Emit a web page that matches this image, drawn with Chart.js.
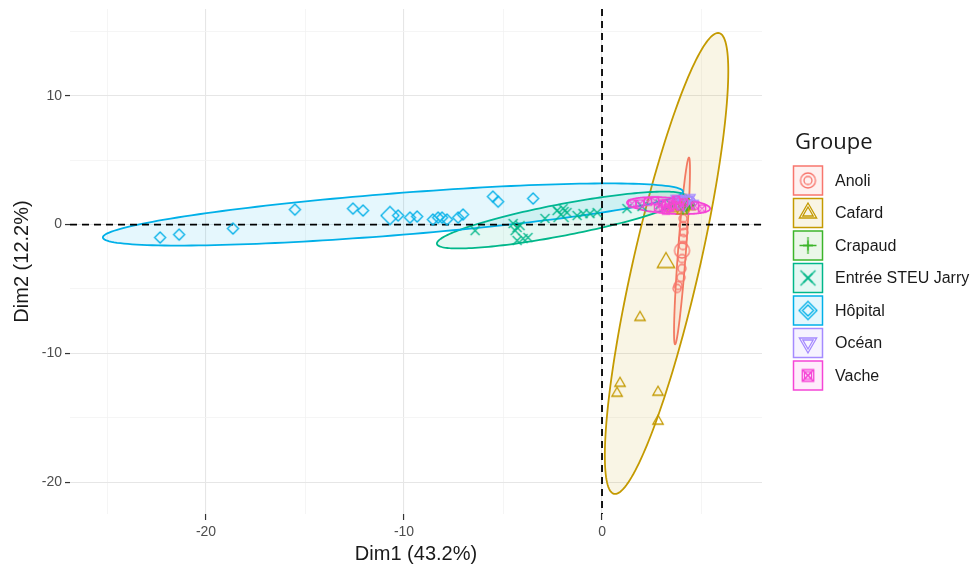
<!DOCTYPE html>
<html><head><meta charset="utf-8">
<script src="https://cdn.jsdelivr.net/npm/chart.js@4.4.1/dist/chart.umd.min.js"></script>
<style>html,body{margin:0;padding:0;background:#fff;}#wrap{width:976px;height:566px;}</style>
</head><body><div id="wrap"><canvas id="c" width="976" height="566"></canvas></div>
<script>
// ---------- data ----------
const GROUPS = ['Anoli','Cafard','Crapaud','Entrée STEU Jarry','Hôpital','Océan','Vache'];

const ANOLI_X = [4.09, 4.09, 4.14, 4.09, 4.09, 4.04, 4.04, 3.99, 3.84, 3.79, 4.19];
const ANOLI_Y = [0.47, -0.08, -0.62, -1.09, -1.63, -2.64, -3.41, -4.11, -4.73, -4.96, 1.40];

const CAFARD_X = [1.92, 0.91, 0.76, 2.83, 2.83, 3.54, 3.74, 3.94, 4.14, 4.34, 4.44, 4.04, 4.24, 4.19];
const CAFARD_Y = [-7.21, -12.33, -13.10, -13.02, -15.27, 1.24, 1.40, 1.55, 1.32, 1.63, 1.40, 1.09, 1.86, 1.71];

const CRAPAUD_X = [4.24, 4.44, 4.09, 4.34];
const CRAPAUD_Y = [1.40, 1.55, 1.16, 1.78];

const ENTREE_X = [-6.41, -4.49, -4.29, -4.14, -4.39, -4.29, -3.99, -3.74, -2.88, -2.27, -1.97, -1.77, -1.26, -0.96, -0.61, -0.25, 1.26, 2.02, 2.93, 3.43];
const ENTREE_Y = [-0.47, 0.08, -0.23, -0.08, -0.47, -1.24, -1.09, -1.01, 0.47, 1.09, 1.24, 0.93, 0.70, 0.85, 0.85, 0.93, 1.24, 1.40, 1.55, 1.63];

const HOPITAL_X = [-22.32, -21.36, -18.64, -15.51, -12.58, -12.07, -10.30, -9.70, -9.34, -8.54, -8.28, -8.08, -7.83, -7.27, -7.02, -5.51, -5.25, -3.48];
const HOPITAL_Y = [-1.01, -0.78, -0.31, 1.16, 1.24, 1.09, 0.70, 0.54, 0.62, 0.39, 0.54, 0.54, 0.39, 0.54, 0.78, 2.17, 1.78, 2.02];

const OCEAN_X = [3.74, 4.04, 4.34, 4.60, 3.89, 4.44];
const OCEAN_Y = [2.02, 1.86, 1.94, 1.63, 1.63, 2.09];

const VACHE_X = [1.52, 1.92, 2.32, 2.68, 3.03, 3.33, 3.54, 3.74, 3.94, 4.14, 3.23, 2.83, 4.70, 5.05];
const VACHE_Y = [1.63, 1.63, 1.78, 1.86, 1.63, 1.32, 1.55, 1.94, 1.40, 1.71, 1.09, 1.32, 1.47, 1.24];

// group means (large symbols)
const MEAN_X = [4.04, 3.23, 4.29, -2.07, -10.71, 4.14, 3.33];
const MEAN_Y = [-2.02, -2.95, 1.47, 0.78, 0.70, 1.78, 1.47];

// concentration ellipses: centre + two conjugate semi-diameters (A, B)
const ELL_CX = [4.04, 3.26, 4.29, -2.05, -10.56, 4.14, 3.36];
const ELL_CY = [-2.05, -3.02, 1.55, 0.35, 0.78, 1.78, 1.47];
const ELL_AX = [0.35, 2.60, 0.35, 6.29, 14.65, 0.55, 2.10];
const ELL_AY = [7.25, 17.90, 0.10, 1.82, 1.78, 0.05, -0.23];
const ELL_BX = [0.20, 1.72, 0.00, 0.00, 0.00, 0.00, 0.00];
const ELL_BY = [0.00, 0.00, 0.35, 1.25, 1.63, 0.45, 0.62];

const X_TICKS = [-25, -20, -15, -10, -5, 0, 5];
const Y_TICKS = [15, 10, 5, 0, -5, -10, -15, -20];
const X_MIN = -26.87, X_MAX = 8.08, Y_MIN = -22.48, Y_MAX = 16.74;

// ---------- styles ----------
const COLORS = ['#F8766D', '#C49A00', '#3CB52A', '#00B78A', '#00B0E8', '#A58AFF', '#F545D6'];
const SHAPES = ['circle', 'triangle', 'plus', 'cross', 'diamond', 'down', 'squarex'];
const SMALL_R = [4, 6, 5, 4.5, 5.5, 6, 5];
const BIG_R = [7.5, 10, 8.5, 7.5, 9, 10, 8];

const SERIES = [[ANOLI_X, ANOLI_Y], [CAFARD_X, CAFARD_Y], [CRAPAUD_X, CRAPAUD_Y], [ENTREE_X, ENTREE_Y],
  [HOPITAL_X, HOPITAL_Y], [OCEAN_X, OCEAN_Y], [VACHE_X, VACHE_Y]];

function hexA(hex, a) {
  const r = parseInt(hex.slice(1,3),16), g = parseInt(hex.slice(3,5),16), b = parseInt(hex.slice(5,7),16);
  return `rgba(${r},${g},${b},${a})`;
}

function drawShape(ctx, shape, cx, cy, r, color, lw) {
  ctx.save();
  ctx.strokeStyle = color; ctx.lineWidth = lw; ctx.lineJoin = 'miter';
  ctx.beginPath();
  if (shape === 'circle') {
    ctx.arc(cx, cy, r, 0, Math.PI * 2);
  } else if (shape === 'triangle') {
    ctx.moveTo(cx, cy - r); ctx.lineTo(cx + r * 0.866, cy + r * 0.5); ctx.lineTo(cx - r * 0.866, cy + r * 0.5); ctx.closePath();
  } else if (shape === 'down') {
    ctx.moveTo(cx, cy + r); ctx.lineTo(cx + r * 0.866, cy - r * 0.5); ctx.lineTo(cx - r * 0.866, cy - r * 0.5); ctx.closePath();
  } else if (shape === 'plus') {
    ctx.moveTo(cx - r, cy); ctx.lineTo(cx + r, cy); ctx.moveTo(cx, cy - r); ctx.lineTo(cx, cy + r);
  } else if (shape === 'cross') {
    ctx.moveTo(cx - r, cy - r); ctx.lineTo(cx + r, cy + r); ctx.moveTo(cx + r, cy - r); ctx.lineTo(cx - r, cy + r);
  } else if (shape === 'diamond') {
    ctx.moveTo(cx, cy - r); ctx.lineTo(cx + r, cy); ctx.lineTo(cx, cy + r); ctx.lineTo(cx - r, cy); ctx.closePath();
  } else if (shape === 'squarex') {
    const s = r * 0.72;
    ctx.rect(cx - s, cy - s, 2 * s, 2 * s);
    ctx.moveTo(cx - s, cy - s); ctx.lineTo(cx + s, cy + s); ctx.moveTo(cx + s, cy - s); ctx.lineTo(cx - s, cy + s);
  }
  ctx.stroke();
  ctx.restore();
}

function makeSymbol(shape, r, color) {
  const size = Math.ceil(2 * r + 4);
  const cv = document.createElement('canvas');
  cv.width = size; cv.height = size;
  drawShape(cv.getContext('2d'), shape, size / 2, size / 2, r, color, 1.3);
  return cv;
}

const SMALL_SYM = GROUPS.map((g, i) => makeSymbol(SHAPES[i], SMALL_R[i], COLORS[i]));
const BIG_SYM = GROUPS.map((g, i) => makeSymbol(SHAPES[i], BIG_R[i], COLORS[i]));

const datasets = [];
GROUPS.forEach((g, i) => {
  datasets.push({
    label: g,
    data: SERIES[i][0].map((x, k) => ({ x: x, y: SERIES[i][1][k] })),
    pointStyle: SMALL_SYM[i], pointRadius: 5, pointHoverRadius: 5,
    order: 2 * (GROUPS.length - i),
  });
  datasets.push({
    label: g + ' (moyenne)',
    data: [{ x: MEAN_X[i], y: MEAN_Y[i] }],
    pointStyle: BIG_SYM[i], pointRadius: 8, pointHoverRadius: 8,
    order: 2 * (GROUPS.length - i) - 1,
  });
});

// ---------- plugins ----------
const ellipsesAndAxes = {
  id: 'ellipsesAndAxes',
  beforeDatasetsDraw(chart) {
    const { ctx, chartArea: a, scales: { x: xs, y: ys } } = chart;
    ctx.save();
    ctx.beginPath(); ctx.rect(a.left, a.top, a.right - a.left, a.bottom - a.top); ctx.clip();
    GROUPS.forEach((g, i) => {
      ctx.beginPath();
      const N = 180;
      for (let k = 0; k <= N; k++) {
        const t = 2 * Math.PI * k / N;
        const dx = ELL_CX[i] + ELL_AX[i] * Math.cos(t) + ELL_BX[i] * Math.sin(t);
        const dy = ELL_CY[i] + ELL_AY[i] * Math.cos(t) + ELL_BY[i] * Math.sin(t);
        const px = xs.getPixelForValue(dx), py = ys.getPixelForValue(dy);
        if (k === 0) ctx.moveTo(px, py); else ctx.lineTo(px, py);
      }
      ctx.closePath();
      ctx.fillStyle = hexA(COLORS[i], 0.1);
      ctx.fill();
      ctx.strokeStyle = COLORS[i];
      ctx.lineWidth = 1.8;
      ctx.stroke();
    });
    // dashed reference lines at 0
    ctx.strokeStyle = '#000';
    ctx.lineWidth = 1.8;
    ctx.setLineDash([7, 5]);
    const x0 = xs.getPixelForValue(0), y0 = ys.getPixelForValue(0);
    ctx.beginPath(); ctx.moveTo(a.left, y0); ctx.lineTo(a.right, y0); ctx.stroke();
    ctx.beginPath(); ctx.moveTo(x0, a.top); ctx.lineTo(x0, a.bottom); ctx.stroke();
    ctx.restore();
  }
};

const customLegend = {
  id: 'customLegend',
  afterDraw(chart) {
    const ctx = chart.ctx;
    ctx.save();
    ctx.fillStyle = '#1A1A1A';
    ctx.font = '22px "Open Sans", "Liberation Sans", sans-serif';
    ctx.textBaseline = 'alphabetic';
    ctx.textAlign = 'left';
    ctx.fillText('Groupe', 795, 149);
    GROUPS.forEach((g, i) => {
      const cy = 180.5 + i * 32.5;
      ctx.fillStyle = hexA(COLORS[i], 0.1);
      ctx.fillRect(793.5, cy - 14.5, 29, 29);
      ctx.strokeStyle = COLORS[i];
      ctx.lineWidth = 1.5;
      ctx.strokeRect(793.5, cy - 14.5, 29, 29);
      const s = SMALL_SYM[i], b = BIG_SYM[i];
      ctx.drawImage(b, 808 - b.width / 2, cy - b.height / 2);
      ctx.drawImage(s, 808 - s.width / 2, cy - s.height / 2);
      ctx.fillStyle = '#1A1A1A';
      ctx.font = '16px "Liberation Sans", Arial, sans-serif';
      ctx.textBaseline = 'middle';
      ctx.fillText(g, 835, cy + 1);
    });
    ctx.restore();
  }
};

const isMajor = (ctx) => ctx.tick && Math.abs(ctx.tick.value % 10) < 1e-9;
const tickFont = { family: '"Liberation Sans", Arial, sans-serif', size: 14 };
const titleFont = { family: '"Liberation Sans", Arial, sans-serif', size: 20 };

new Chart(document.getElementById('c'), {
  type: 'scatter',
  data: { datasets },
  options: {
    responsive: false, animation: false, devicePixelRatio: 1,
    layout: { padding: { left: 0, right: 214, top: 8, bottom: 0 } },
    plugins: { legend: { display: false }, tooltip: { enabled: false } },
    scales: {
      x: {
        type: 'linear', min: X_MIN, max: X_MAX,
        afterBuildTicks: (s) => { s.ticks = X_TICKS.map(v => ({ value: v })); },
        afterFit: (s) => { s.height = 52; s.paddingLeft = 0; s.paddingRight = 0; },
        ticks: { callback: (v) => (Math.abs(v % 10) < 1e-9 ? String(v) : ''), color: '#4D4D4D', font: tickFont, padding: 4, maxRotation: 0, autoSkip: false },
        grid: {
          color: (c) => isMajor(c) ? '#E6E6E6' : '#F2F2F2',
          lineWidth: (c) => isMajor(c) ? 1.1 : 0.8,
          tickColor: (c) => isMajor(c) ? '#333333' : 'rgba(0,0,0,0)',
          tickLength: 6, tickWidth: 1.2,
        },
        border: { display: false },
        title: { display: true, text: 'Dim1 (43.2%)', color: '#1A1A1A', font: titleFont, padding: { top: 0, bottom: 0 } },
      },
      y: {
        type: 'linear', min: Y_MIN, max: Y_MAX,
        afterBuildTicks: (s) => { s.ticks = Y_TICKS.map(v => ({ value: v })); },
        afterFit: (s) => { s.width = 70; s.paddingTop = 0; s.paddingBottom = 0; },
        ticks: { callback: (v) => (Math.abs(v % 10) < 1e-9 ? String(v) : ''), color: '#4D4D4D', font: tickFont, padding: 3, autoSkip: false },
        grid: {
          color: (c) => isMajor(c) ? '#E6E6E6' : '#F2F2F2',
          lineWidth: (c) => isMajor(c) ? 1.1 : 0.8,
          tickColor: (c) => isMajor(c) ? '#333333' : 'rgba(0,0,0,0)',
          tickLength: 5, tickWidth: 1.2,
        },
        border: { display: false },
        title: { display: true, text: 'Dim2 (12.2%)', color: '#1A1A1A', font: titleFont, padding: { top: 10, bottom: 0 } },
      }
    }
  },
  plugins: [ellipsesAndAxes, customLegend]
});
</script>
</body></html>
